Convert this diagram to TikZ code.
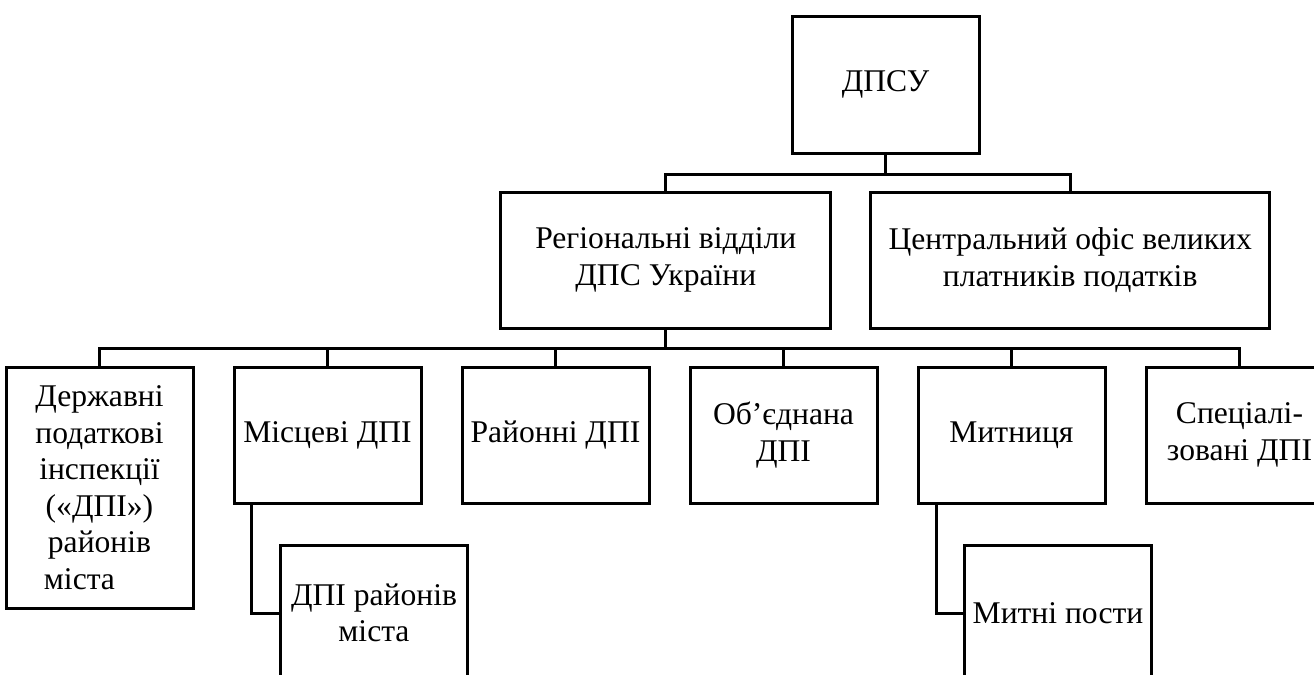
\documentclass[tikz,border=0pt]{standalone}
\usepackage{fontspec}
\setmainfont{Liberation Serif}
\newfontfamily\timesfont{Liberation Serif}
\usetikzlibrary{positioning}
\tikzset{
  unit/.style = {rectangle, draw=black, line width=1.5pt, align=center, minimum height=68pt, minimum width=93.5pt, inner sep=2pt, font=\timesfont\fontsize{15.8pt}{18.25pt}\selectfont},
  tallunit/.style = {unit, minimum height=120.5pt},
  link/.style = {line width=1.5pt}
}

\begin{document}
\begin{tikzpicture}[x=0.5pt, y=-0.5pt, node distance=19pt]
\useasboundingbox (0,0) rectangle (1314,675);
\clip (0,0) rectangle (1314,675);

% Top levels
\node[unit, minimum height=68.5pt] (dpsu) at (885.5,84.5) {ДПСУ};

\node[unit, minimum width=165pt] (regional) at (665.8,260) {Регіональні відділи\\ ДПС України};

\node[unit, minimum width=199.5pt] (office) at (1070.2,260) {Центральний офіс великих\\ платників податків};

% Inspections row
\node[unit] (local) at (327.5,435) {Місцеві ДПІ};

\node[tallunit, anchor=north east] (state) at ([xshift=-19pt]local.north west) {Державні\\ податкові\\ інспекції\\ («ДПІ»)\\ районів\\ \hbox{міста\kern20pt}};

\node[unit, right=of local] (district) {Районні ДПІ};

\node[unit, right=of district] (joint) {Об’єднана\\ ДПІ};

\node[unit, right=of joint] (customs) {Митниця};

\node[unit, right=of customs] (special) {Спеціалі-\\ зовані ДПІ};

% Lower level
\node[unit, below=19.5pt of local, xshift=23.25pt] (citydpi) {ДПІ районів\\ міста};

\node[unit, below=19.5pt of customs, xshift=23.25pt] (posts) {Митні пости};

% Connectors
\draw[link] (dpsu.south) -- ++(0,20) -| (regional.north);
\draw[link] (dpsu.south) -- ++(0,20) -| (office.north);

\draw[link] (regional.south) -- ++(0,19) -| (state.north);
\draw[link] (regional.south) -- ++(0,19) -| (local.north);
\draw[link] (regional.south) -- ++(0,19) -| (district.north);
\draw[link] (regional.south) -- ++(0,19) -| (joint.north);
\draw[link] (regional.south) -- ++(0,19) -| (customs.north);
\draw[link] (regional.south) -- ++(0,19) -| (special.north);

\draw[link] ([xshift=9.5pt]local.south west) |- (citydpi.west);
\draw[link] ([xshift=10pt]customs.south west) |- (posts.west);

\end{tikzpicture}
\end{document}
